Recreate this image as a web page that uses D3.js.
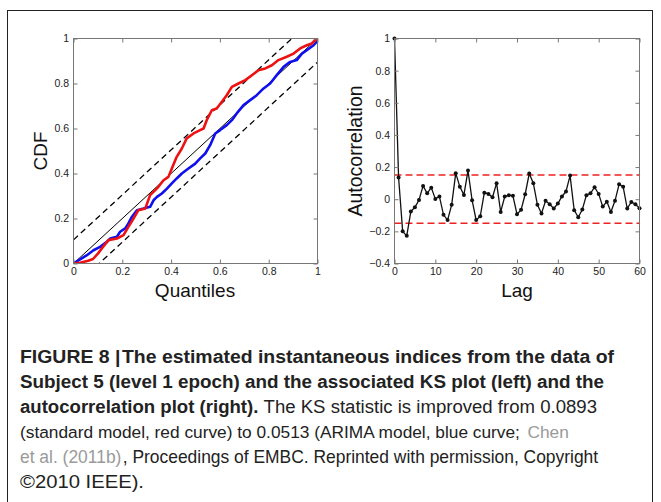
<!DOCTYPE html>
<html><head><meta charset="utf-8">
<script src="https://cdn.jsdelivr.net/npm/d3@7"></script>
<style>body{margin:0;background:#fff}svg{display:block}</style>
</head><body>
<script>
// ---- data ----
const ksTicks = [0, 0.2, 0.4, 0.6, 0.8, 1];
const ksBand = 0.105;
const redX = [0,0.027,0.06,0.08,0.10,0.116,0.143,0.178,0.205,0.225,0.246,0.266,0.294,0.314,0.335,0.348,0.369,0.389,0.403,0.423,0.444,0.464,0.492,0.519,0.533,0.546,0.567,0.587,0.608,0.628,0.649,0.676,0.704,0.731,0.758,0.786,0.813,0.84,0.874,0.902,0.929,0.956,0.977,0.99,1];
const redY = [0,0.003,0.012,0.02,0.044,0.067,0.104,0.111,0.126,0.163,0.2,0.237,0.244,0.304,0.326,0.341,0.37,0.385,0.422,0.474,0.511,0.556,0.578,0.593,0.6,0.637,0.681,0.689,0.719,0.748,0.785,0.8,0.815,0.837,0.859,0.867,0.881,0.904,0.919,0.933,0.956,0.97,0.978,0.993,1];
const blueX = [0,0.027,0.055,0.082,0.109,0.137,0.15,0.178,0.191,0.212,0.225,0.239,0.26,0.287,0.314,0.328,0.342,0.362,0.383,0.403,0.423,0.444,0.471,0.499,0.519,0.54,0.56,0.581,0.601,0.628,0.649,0.669,0.697,0.724,0.751,0.779,0.806,0.833,0.861,0.888,0.915,0.936,0.956,0.984,1];
const blueY = [0,0.018,0.037,0.059,0.074,0.096,0.111,0.119,0.141,0.156,0.178,0.207,0.237,0.244,0.252,0.281,0.296,0.311,0.333,0.356,0.378,0.4,0.422,0.444,0.467,0.489,0.526,0.578,0.593,0.615,0.637,0.667,0.704,0.726,0.748,0.778,0.8,0.837,0.874,0.896,0.904,0.933,0.948,0.97,0.99];

const acfLagTicks = [0,10,20,30,40,50,60];
const acfYTicks = [-0.4,-0.2,0,0.2,0.4,0.6,0.8,1];
const acfConf = 0.15;
const acf = [1,0.135,-0.20,-0.228,-0.077,-0.05,-0.005,0.083,0.037,0.072,0.002,0.017,-0.097,-0.13,-0.035,0.162,0.077,0.027,0.178,-0.006,-0.13,-0.106,0.041,0.033,0.012,0.10,-0.079,0.017,0.025,0.021,-0.093,-0.066,0.031,0.16,0.10,-0.035,-0.089,-0.01,-0.031,-0.058,-0.027,0.017,0.048,0.147,-0.068,-0.112,-0.064,0.025,0.037,0.075,0.033,-0.046,-0.015,-0.079,-0.01,0.093,0.077,-0.058,-0.017,-0.031,-0.056];

// sp: gap (in space widths) before the segment
const captionLines = [
  [{t:"FIGURE 8 |", b:1},{t:"The estimated instantaneous indices from the data of", b:1, sp:0.3}],
  [{t:"Subject 5 (level 1 epoch) and the associated KS plot (left) and the", b:1}],
  [{t:"autocorrelation plot (right).", b:1},{t:"The KS statistic is improved from 0.0893", sp:1}],
  [{t:"(standard model, red curve) to 0.0513 (ARIMA model, blue curve;"},{t:"Chen", g:1, sp:1}],
  [{t:"et al. (2011b)", g:1},{t:", Proceedings of EMBC. Reprinted with permission, Copyright", sp:0.15}],
  [{t:"©2010 IEEE)."}]
];
const captionWidths = [594, 584, 577, 549, 581, 124];

// ---- drawing ----
const W = 661, H = 502;
const svg = d3.select("body").append("svg").attr("width", W).attr("height", H);
svg.append("rect").attr("x",7.5).attr("y",10.5).attr("width",645).attr("height",600)
  .attr("fill","none").attr("stroke","#222").attr("stroke-width",1);

const font = "'Liberation Sans', Arial, sans-serif";
const axisColor = "#777";

function drawBox(g, x, y, xt, yt, xfmt, yfmt) {
  const [x0,x1] = x.range(), [y0,y1] = y.range();
  g.append("rect").attr("x",x0).attr("y",y1).attr("width",x1-x0).attr("height",y0-y1)
    .attr("fill","none").attr("stroke",axisColor).attr("stroke-width",1);
  const xa = d3.axisBottom(x).tickValues(xt).tickSize(-4).tickPadding(4).tickFormat(xfmt);
  const xaT = d3.axisTop(x).tickValues(xt).tickSize(-4).tickFormat("");
  const ya = d3.axisLeft(y).tickValues(yt).tickSize(-4).tickPadding(4.5).tickFormat(yfmt);
  const yaR = d3.axisRight(y).tickValues(yt).tickSize(-4).tickFormat("");
  [[xa,`translate(0,${y0})`],[xaT,`translate(0,${y1})`],[ya,`translate(${x0},0)`],[yaR,`translate(${x1},0)`]].forEach(([a,t])=>{
    const ag = g.append("g").attr("transform",t).call(a);
    ag.select(".domain").remove();
    ag.selectAll("line").attr("stroke",axisColor);
    ag.selectAll("text").attr("font-family",font).attr("font-size",10.5).attr("fill","#222");
  });
}
const fmt = d => d===0 ? "0" : d===1 ? "1" : d3.format(".1f")(d).replace("-","\u2212");

// Left: KS plot
const xL = d3.scaleLinear().domain([0,1]).range([73.5,317.5]);
const yL = d3.scaleLinear().domain([0,1]).range([263.5,38.5]);
const gL = svg.append("g");
gL.append("defs").append("clipPath").attr("id","clipL").append("rect")
  .attr("x",73.5).attr("y",38.5).attr("width",244).attr("height",225);
const pL = gL.append("g").attr("clip-path","url(#clipL)");
const ln = d3.line().x(d=>xL(d[0])).y(d=>yL(d[1]));
pL.append("path").attr("d",ln([[0,0],[1,1]])).attr("stroke","#000").attr("stroke-width",1).attr("fill","none");
pL.append("path").attr("d",ln([[0,ksBand],[1,1+ksBand]])).attr("stroke","#000").attr("stroke-width",1.3).attr("stroke-dasharray","6,4").attr("fill","none");
pL.append("path").attr("d",ln([[0,-ksBand],[1,1-ksBand]])).attr("stroke","#000").attr("stroke-width",1.3).attr("stroke-dasharray","6,4").attr("fill","none");
pL.append("path").attr("d",ln(blueX.map((v,i)=>[v,blueY[i]]))).attr("stroke","#1010ee").attr("stroke-width",2.6).attr("fill","none").attr("stroke-linejoin","round");
pL.append("path").attr("d",ln(redX.map((v,i)=>[v,redY[i]]))).attr("stroke","#ee1111").attr("stroke-width",2.6).attr("fill","none").attr("stroke-linejoin","round");
drawBox(gL, xL, yL, ksTicks, ksTicks, fmt, fmt);
gL.append("text").attr("transform","translate(47,151) rotate(-90)").attr("text-anchor","middle")
  .attr("font-family",font).attr("font-size",19).attr("fill","#111").text("CDF");
gL.append("text").attr("x",195).attr("y",297).attr("text-anchor","middle")
  .attr("font-family",font).attr("font-size",19).attr("fill","#111").text("Quantiles");

// Right: autocorrelation
const xR = d3.scaleLinear().domain([0,60]).range([394.5,639.5]);
const yR = d3.scaleLinear().domain([-0.4,1]).range([263.5,38.5]);
const gR = svg.append("g");
[acfConf,-acfConf].forEach(c=>{
  gR.append("line").attr("x1",xR(0)).attr("x2",xR(60)).attr("y1",yR(c)).attr("y2",yR(c))
    .attr("stroke","#ee2222").attr("stroke-width",1.5).attr("stroke-dasharray","7,4");
});
const lnR = d3.line().x((d,i)=>xR(i)).y(d=>yR(d));
gR.append("path").attr("d",lnR(acf)).attr("stroke","#111").attr("stroke-width",1.3).attr("fill","none");
gR.selectAll("circle").data(acf).enter().append("circle")
  .attr("cx",(d,i)=>xR(i)).attr("cy",d=>yR(d)).attr("r",2).attr("fill","#111");
drawBox(gR, xR, yR, acfLagTicks, acfYTicks, d3.format("d"), fmt);
gR.append("text").attr("transform","translate(362,151) rotate(-90)").attr("text-anchor","middle")
  .attr("font-family",font).attr("font-size",19.5).attr("fill","#111").text("Autocorrelation");
gR.append("text").attr("x",517).attr("y",297).attr("text-anchor","middle")
  .attr("font-family",font).attr("font-size",19).attr("fill","#111").text("Lag");

// Caption: each segment its own text element; lines scaled to the reference line lengths
const spaceW = 5, capSize = 18;
captionLines.forEach((line,i)=>{
  const y = 363+25*i;
  const segs = line.map(s=>{
    const t = svg.append("text").attr("y",y).attr("font-family",font).attr("font-size",capSize)
      .attr("font-weight",s.b?"bold":"normal").attr("fill",s.g?"#9a9a9a":"#222").text(s.t);
    return {t, w: t.node().getComputedTextLength(), gap: (s.sp||0)*spaceW};
  });
  const total = d3.sum(segs, d=>d.w + d.gap);
  const k = captionWidths[i]/total;
  let x = 20;
  segs.forEach(s=>{
    x += s.gap*k;
    const w = s.w*k;
    s.t.attr("x",x);
    if (k < 1) s.t.attr("font-size", capSize*k*0.995);   // shrink: smaller font
    else s.t.attr("textLength",w).attr("lengthAdjust","spacingAndGlyphs"); // stretch
    x += w;
  });
});
</script>
</body></html>
